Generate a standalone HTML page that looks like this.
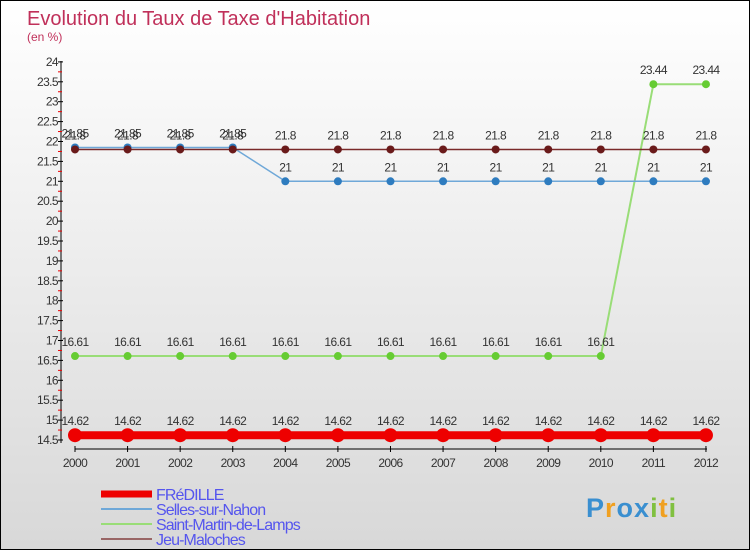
<!DOCTYPE html>
<html><head><meta charset="utf-8"><style>
body{margin:0;width:750px;height:550px;overflow:hidden;font-family:"Liberation Sans",sans-serif}
#c{position:absolute;left:0;top:0;width:748px;height:548px;border:1px solid #000;background:linear-gradient(#fff,#d8d8d8)}
</style></head><body>
<div id="c">
<svg width="748" height="548" id="s"></svg>
</div>
<script>
const years=[2000,2001,2002,2003,2004,2005,2006,2007,2008,2009,2010,2011,2012];
const fredille=[14.62,14.62,14.62,14.62,14.62,14.62,14.62,14.62,14.62,14.62,14.62,14.62,14.62];
const selles=[21.85,21.85,21.85,21.85,21,21,21,21,21,21,21,21,21];
const saintMartin=[16.61,16.61,16.61,16.61,16.61,16.61,16.61,16.61,16.61,16.61,16.61,23.44,23.44];
const jeu=[21.8,21.8,21.8,21.8,21.8,21.8,21.8,21.8,21.8,21.8,21.8,21.8,21.8];
const yTicks=[14.5,15,15.5,16,16.5,17,17.5,18,18.5,19,19.5,20,20.5,21,21.5,22,22.5,23,23.5,24];
const NS="http://www.w3.org/2000/svg";
const s=document.getElementById('s');
function X(i){return 74+i*52.58;}
function Y(v){return 439-(v-14.5)*39.8;}
function el(t,a,txt){const e=document.createElementNS(NS,t);for(const k in a)e.setAttribute(k,a[k]);if(txt!==undefined)e.textContent=txt;s.appendChild(e);return e;}
let t=el('text',{x:26,y:24,fill:'#c0305a','font-size':20},'Evolution du Taux de Taxe d\'Habitation');

t=el('text',{x:26,y:40,fill:'#c0305a','font-size':12},'(en %)');

let a=el('line',{x1:60,y1:60,x2:60,y2:442,stroke:'#000'});

a=el('line',{x1:74,y1:448,x2:706,y2:448,stroke:'#000'});

yTicks.forEach((v,i)=>{
 const y=Y(v);
 el('line',{x1:57,y1:y,x2:62,y2:y,stroke:'#000'});
 if(i<yTicks.length-1)el('line',{x1:57,y1:Y(v+0.25),x2:61,y2:Y(v+0.25),stroke:'#e00'});
 const l=el('text',{x:57,y:y+4,'text-anchor':'end','font-size':12,fill:'#333','letter-spacing':'-0.6'},String(v));
 
});
years.forEach((yr,i)=>{
 el('line',{x1:X(i),y1:445,x2:X(i),y2:451,stroke:'#000'});
 const l=el('text',{x:X(i),y:466,'text-anchor':'middle','font-size':12,fill:'#333','letter-spacing':'-0.6'},String(yr));
 
});
function series(name,data,color,w,r,dot){
 const pts=data.map((v,i)=>X(i)+','+Y(v)).join(' ');
 const p=el('polyline',{points:pts,fill:'none',stroke:color,'stroke-width':w});
 
 data.forEach((v,i)=>{
  const c=el('circle',{cx:X(i),cy:Y(v),r:r,fill:dot});
  
  const l=el('text',{x:X(i),y:Y(v)-10,'text-anchor':'middle','font-size':12,fill:'#333','letter-spacing':'-0.6'},String(v));
  
 });
}
series('saint-martin',saintMartin,'#99dd77',2,4,'#66cc33');
series('selles',selles,'#6fa8d8',1.5,4,'#2e7cbf');
series('jeu',jeu,'#7a2a2a',1.5,4,'#6a1a1a');
series('fredille',fredille,'#ee0000',8,7,'#ee0000');
const legend=[['FRéDILLE','#ee0000',7],['Selles-sur-Nahon','#6fa8d8',2],['Saint-Martin-de-Lamps','#99dd77',2],['Jeu-Maloches','#996666',2]];
legend.forEach((L,i)=>{
 const y=493+i*15;
 const ln=el('line',{x1:100,y1:y,x2:151,y2:y,stroke:L[1],'stroke-width':L[2]});
 
 const tx=el('text',{x:155,y:y+6,'font-size':16,fill:'#5555ee','letter-spacing':'-0.9'},L[0]);
 
});
const lg=el('text',{x:585,y:516,'font-size':27,'font-weight':'bold',fill:'#3a8fd0','letter-spacing':'1'},'');

[['P','#3a8fd0'],['r','#f0a020'],['o','#3a8fd0'],['x','#3a8fd0'],['i','#80c040'],['t','#f0a020'],['i','#80c040']].forEach(c=>{
 const sp=document.createElementNS(NS,'tspan');sp.setAttribute('fill',c[1]);sp.textContent=c[0];lg.appendChild(sp);
});
</script>
</body></html>
